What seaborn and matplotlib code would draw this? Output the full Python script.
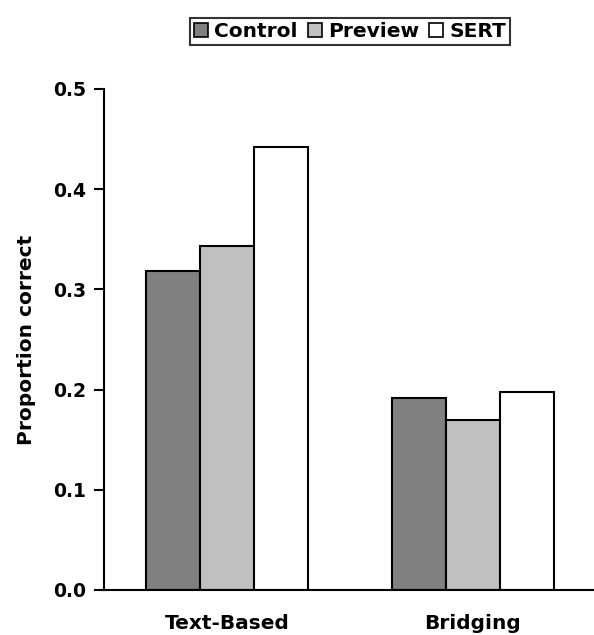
import matplotlib
matplotlib.use("Agg")
import matplotlib.pyplot as plt
import seaborn as sns
import pandas as pd
from matplotlib.patches import Patch

categories = ["Text-Based", "Bridging"]
conditions = ["Control", "Preview", "SERT"]
control = [0.318, 0.192]
preview = [0.343, 0.170]
sert = [0.442, 0.198]
colors = ["#808080", "#C0C0C0", "#FFFFFF"]
yticks = [0.0, 0.1, 0.2, 0.3, 0.4, 0.5]

rows = []
for cond, vals in zip(conditions, [control, preview, sert]):
    for c, v in zip(categories, vals):
        rows.append({"cat": c, "cond": cond, "val": v})
df = pd.DataFrame(rows)

sns.set_style("white")
plt.rcParams["font.family"] = ["DejaVu Sans"]
plt.rcParams["font.weight"] = "bold"
for k in ["text.color", "axes.labelcolor", "xtick.color", "ytick.color"]:
    plt.rcParams[k] = "black"

fig = plt.figure(figsize=(5.94, 6.35), dpi=100)
ax = fig.add_axes([0.175, 0.0709, 0.825, 0.789])

sns.barplot(data=df, x="cat", y="val", hue="cond", order=categories,
            hue_order=conditions, palette=colors, edgecolor="black",
            linewidth=1.5, width=0.66, ax=ax, legend=False, saturation=1)

ax.set_ylim(0, 0.5)
ax.set_xlim(-0.5, -0.5 + 490 / 246)
ax.set_yticks(yticks)
ax.set_yticklabels([f"{t:.1f}" for t in yticks], fontsize=13.5, fontweight="bold")
ax.set_xticks([0, 1])
ax.set_xticklabels(categories, fontsize=14.5, fontweight="bold")
ax.tick_params(axis="x", which="major", length=0, pad=17)
ax.set_xticks([0.5], minor=True)
ax.tick_params(axis="x", which="minor", length=7, width=1.5, direction="out", color="black")
ax.tick_params(axis="y", length=7, width=1.5, direction="out", color="black", left=True, pad=6)
for s in ["top", "right"]:
    ax.spines[s].set_visible(False)
for s in ["left", "bottom"]:
    ax.spines[s].set_color("black")
    ax.spines[s].set_linewidth(1.5)
ax.set_xlabel("")
ax.set_ylabel("Proportion correct", fontsize=14.5, fontweight="bold", labelpad=12)

handles = [Patch(facecolor=c, edgecolor="black", linewidth=1.2, label=l)
           for c, l in zip(colors, conditions)]
leg = fig.legend(handles=handles, loc="center", bbox_to_anchor=(350 / 594, 0.951),
                 ncol=3, frameon=True, fancybox=False, handlelength=0.7,
                 handleheight=0.7, handletextpad=0.3, columnspacing=0.5,
                 borderpad=0.2, borderaxespad=0, prop={"weight": "bold", "size": 14.5})
leg.get_frame().set_edgecolor("black")
leg.get_frame().set_linewidth(1.5)

fig.savefig("out.png", dpi=100)
